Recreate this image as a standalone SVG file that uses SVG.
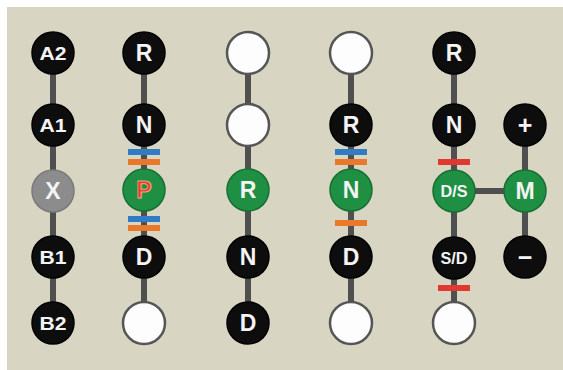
<svg xmlns="http://www.w3.org/2000/svg" width="563" height="370" viewBox="0 0 563 370">
<style>
.bk{fill:#0d0d0d;stroke:#000;stroke-width:1.5}
.wh{fill:#fdfdfd;stroke:#555;stroke-width:2.5}
.gr{fill:#1f8f43;stroke:#167033;stroke-width:1.5}
.gy{fill:#8c8c8c;stroke:#7a7a7a;stroke-width:1.5}
.t{font-family:"Liberation Sans",Arial,sans-serif;font-weight:bold;fill:#f4f4f4;text-anchor:middle}
.s{font-size:19px}
.b{font-size:23px}
.l{stroke:#4f4f4f;stroke-width:6;fill:none}
.blue{fill:#2f7bc4}
.orange{fill:#e8782a}
.red{fill:#e03a30}
</style>
<rect x="0" y="0" width="563" height="370" fill="#ffffff"/>
<rect x="7" y="7" width="556" height="363" fill="#d8d5c3"/>
<g id="connectors">
<line class="l" x1="53" y1="53" x2="53" y2="323"/>
<line class="l" x1="144" y1="53" x2="144" y2="323"/>
<line class="l" x1="248" y1="53" x2="248" y2="323"/>
<line class="l" x1="351" y1="53" x2="351" y2="323"/>
<line class="l" x1="454" y1="53" x2="454" y2="323"/>
<line class="l" x1="525" y1="125" x2="525" y2="257"/>
<line class="l" x1="454" y1="191" x2="525" y2="191"/>
</g>
<g id="markers">
<rect class="blue" x="128" y="149" width="32" height="6"/>
<rect class="orange" x="128" y="159" width="32" height="6"/>
<rect class="blue" x="128" y="216" width="32" height="6"/>
<rect class="orange" x="128" y="225" width="32" height="6"/>
<rect class="blue" x="335" y="149" width="32" height="6"/>
<rect class="orange" x="335" y="159" width="32" height="6"/>
<rect class="orange" x="335" y="220" width="32" height="6"/>
<rect class="red" x="438" y="159" width="32" height="6"/>
<rect class="red" x="438" y="285" width="32" height="6"/>
</g>
<g id="col1">
<g id="A2"><circle class="bk" cx="53" cy="53" r="21"/><text class="t s" x="53" y="60" textLength="27" lengthAdjust="spacingAndGlyphs">A2</text></g>
<g id="A1"><circle class="bk" cx="53" cy="125" r="21"/><text class="t s" x="53" y="132" textLength="27" lengthAdjust="spacingAndGlyphs">A1</text></g>
<g id="X"><circle class="gy" cx="53" cy="191" r="21"/><text class="t b" x="53" y="199">X</text></g>
<g id="B1"><circle class="bk" cx="53" cy="257" r="21"/><text class="t s" x="53" y="264" textLength="27" lengthAdjust="spacingAndGlyphs">B1</text></g>
<g id="B2"><circle class="bk" cx="53" cy="323" r="21"/><text class="t s" x="53" y="330" textLength="27" lengthAdjust="spacingAndGlyphs">B2</text></g>
</g>
<g id="col2">
<g id="c2R"><circle class="bk" cx="144" cy="53" r="21"/><text class="t b" x="144" y="61">R</text></g>
<g id="c2N"><circle class="bk" cx="144" cy="125" r="21"/><text class="t b" x="144" y="133">N</text></g>
<g id="c2P"><circle class="gr" cx="144" cy="190" r="21"/><text class="t b" x="144" y="198" style="fill:#e2402a;stroke:#f3a07e;stroke-width:1">P</text></g>
<g id="c2D"><circle class="bk" cx="144" cy="257" r="21"/><text class="t b" x="144" y="265">D</text></g>
<g id="c2E"><circle class="wh" cx="144" cy="323" r="21"/></g>
</g>
<g id="col3">
<g id="c3E1"><circle class="wh" cx="248" cy="53" r="21"/></g>
<g id="c3E2"><circle class="wh" cx="248" cy="125" r="21"/></g>
<g id="c3R"><circle class="gr" cx="248" cy="190" r="21"/><text class="t b" x="248" y="198">R</text></g>
<g id="c3N"><circle class="bk" cx="248" cy="257" r="21"/><text class="t b" x="248" y="265">N</text></g>
<g id="c3D"><circle class="bk" cx="248" cy="323" r="21"/><text class="t b" x="248" y="331">D</text></g>
</g>
<g id="col4">
<g id="c4E1"><circle class="wh" cx="351" cy="53" r="21"/></g>
<g id="c4R"><circle class="bk" cx="351" cy="125" r="21"/><text class="t b" x="351" y="133">R</text></g>
<g id="c4N"><circle class="gr" cx="351" cy="190" r="21"/><text class="t b" x="351" y="198">N</text></g>
<g id="c4D"><circle class="bk" cx="351" cy="257" r="21"/><text class="t b" x="351" y="265">D</text></g>
<g id="c4E2"><circle class="wh" cx="351" cy="323" r="21"/></g>
</g>
<g id="col5">
<g id="c5R"><circle class="bk" cx="454" cy="53" r="21"/><text class="t b" x="454" y="61">R</text></g>
<g id="c5N"><circle class="bk" cx="454" cy="125" r="21"/><text class="t b" x="454" y="133">N</text></g>
<g id="c5DS"><circle class="gr" cx="454" cy="191" r="21"/><text class="t" x="454" y="197" font-size="16" textLength="27" lengthAdjust="spacingAndGlyphs">D/S</text></g>
<g id="c5SD"><circle class="bk" cx="454" cy="258" r="21"/><text class="t" x="454" y="264" font-size="16" textLength="27" lengthAdjust="spacingAndGlyphs">S/D</text></g>
<g id="c5E"><circle class="wh" cx="454" cy="323" r="21"/></g>
</g>
<g id="col6">
<g id="plus"><circle class="bk" cx="525" cy="125" r="21"/><text class="t" x="525" y="133.5" font-size="25">+</text></g>
<g id="M"><circle class="gr" cx="525" cy="191" r="21"/><text class="t b" x="525" y="199">M</text></g>
<g id="minus"><circle class="bk" cx="525" cy="257" r="21"/><text class="t" x="525" y="265.5" font-size="25">−</text></g>
</g>
</svg>
